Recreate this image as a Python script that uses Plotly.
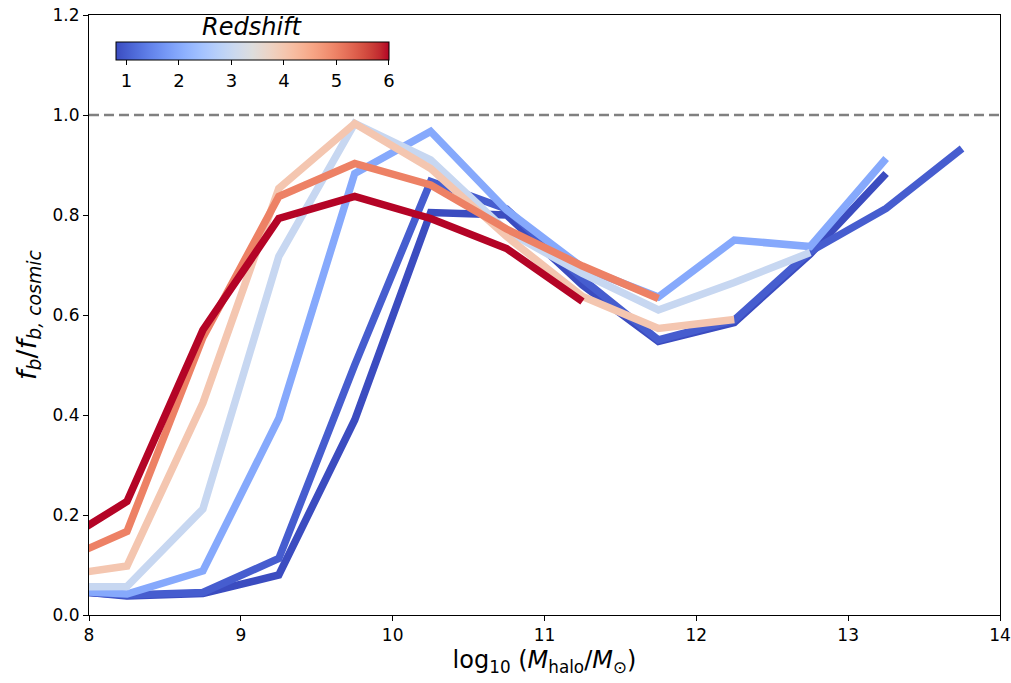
import plotly.graph_objects as go
from plotly.colors import sample_colorscale

# ---------------- data ----------------
mass_bins = [7.75, 8.25, 8.75, 9.25, 9.75, 10.25, 10.75, 11.25, 11.75, 12.25, 12.75, 13.25, 13.75]

redshifts = [0.8, 1, 2, 3, 4, 5, 6]

fb_z08 = [0.052, 0.038, 0.043, 0.080, 0.390, 0.805, 0.800, 0.660, 0.547, 0.585, 0.722, 0.883]
fb_z1 = [0.050, 0.040, 0.045, 0.113, 0.500, 0.867, 0.812, 0.672, 0.550, 0.590, 0.727, 0.813, 0.933]
fb_z2 = [0.050, 0.042, 0.088, 0.393, 0.883, 0.967, 0.810, 0.695, 0.636, 0.750, 0.737, 0.913]
fb_z3 = [0.056, 0.057, 0.212, 0.717, 0.983, 0.910, 0.768, 0.683, 0.610, 0.665, 0.725]
fb_z4 = [0.076, 0.098, 0.424, 0.853, 0.983, 0.893, 0.757, 0.637, 0.573, 0.591]
fb_z5 = [0.100, 0.167, 0.555, 0.837, 0.903, 0.860, 0.772, 0.698, 0.633]
fb_z6 = [0.133, 0.227, 0.570, 0.793, 0.837, 0.793, 0.733, 0.627]

series = [fb_z08, fb_z1, fb_z2, fb_z3, fb_z4, fb_z5, fb_z6]

cosmic_ratio = 1.0
z_min, z_max = 0.8, 6.0
cbar_ticks = [1, 2, 3, 4, 5, 6]
x_ticks = [8, 9, 10, 11, 12, 13, 14]
y_ticks = [0.0, 0.2, 0.4, 0.6, 0.8, 1.0, 1.2]

# Moreland cool-warm (matplotlib "coolwarm") control colours
coolwarm_rgb = [
    (59, 76, 192), (68, 90, 204), (77, 104, 215), (87, 117, 225), (98, 130, 234),
    (108, 142, 241), (119, 154, 247), (130, 165, 251), (141, 176, 254), (152, 185, 255),
    (163, 194, 255), (174, 201, 253), (184, 208, 249), (194, 213, 244), (204, 217, 238),
    (213, 219, 230), (221, 221, 221), (229, 216, 209), (236, 211, 197), (241, 204, 184),
    (245, 196, 172), (247, 187, 159), (247, 177, 147), (247, 166, 134), (244, 154, 123),
    (241, 141, 111), (236, 127, 99), (229, 112, 89), (222, 96, 77), (213, 80, 66),
    (203, 62, 56), (192, 40, 47), (180, 4, 38),
]
n = len(coolwarm_rgb) - 1
coolwarm = [[i / n, "rgb(%d,%d,%d)" % c] for i, c in enumerate(coolwarm_rgb)]

FONT = "DejaVu Sans"

fig = go.Figure()

for z, vals in zip(redshifts, series):
    col = sample_colorscale(coolwarm, [(z - z_min) / (z_max - z_min)])[0]
    fig.add_trace(go.Scatter(
        x=mass_bins[:len(vals)], y=vals, mode="lines",
        line=dict(color=col, width=7.5),
        showlegend=False, hoverinfo="skip",
    ))

# colorbar carrier
fig.add_trace(go.Scatter(
    x=[None], y=[None], mode="markers", showlegend=False, hoverinfo="skip",
    marker=dict(
        color=[z_min], colorscale=coolwarm, cmin=z_min, cmax=z_max, showscale=True,
        colorbar=dict(
            orientation="h", x=0.0296, xanchor="left", y=0.955, yanchor="top",
            len=273, lenmode="pixels", thickness=18, thicknessmode="pixels",
            xpad=0, ypad=0, outlinewidth=1, outlinecolor="black",
            tickvals=cbar_ticks, ticks="outside", ticklen=5, tickcolor="black",
            tickfont=dict(family=FONT, size=18, color="black"),
        ),
    ),
))

fig.add_annotation(text="<i>Redshift</i>", xref="paper", yref="paper",
                   x=0.1795, y=0.98, xanchor="center", yanchor="middle", showarrow=False,
                   font=dict(family=FONT, size=24, color="black"))

fig.add_shape(type="line", xref="paper", x0=0, x1=1, yref="y", y0=cosmic_ratio, y1=cosmic_ratio,
              line=dict(color="#808080", width=2.5, dash="10px,5px"), layer="below")

axis_common = dict(
    showline=True, linecolor="black", linewidth=1, mirror=True,
    ticks="outside", ticklen=5, tickcolor="black", showgrid=False, zeroline=False,
    tickfont=dict(family=FONT, size=17, color="black"),
)

fig.update_layout(
    width=1011, height=683,
    margin=dict(l=89, r=11, t=15, b=68, autoexpand=False),
    plot_bgcolor="white", paper_bgcolor="white",
    font=dict(family=FONT, color="black"),
    xaxis=dict(range=[8, 14], tickvals=x_ticks, **axis_common,
               title=dict(text="log<sub>10</sub> (<i>M</i><sub>halo</sub>/<i>M</i><sub>⊙</sub>)",
                          font=dict(family=FONT, size=24, color="black"), standoff=6)),
    yaxis=dict(range=[0, 1.2], tickvals=y_ticks, tickformat=".1f", **axis_common,
               title=dict(text="<i>f</i><sub><i>b</i></sub>/<i>f</i><sub><i>b, cosmic</i></sub>",
                          font=dict(family=FONT, size=27, color="black"), standoff=8)),
)

fig.write_html("out.html")
